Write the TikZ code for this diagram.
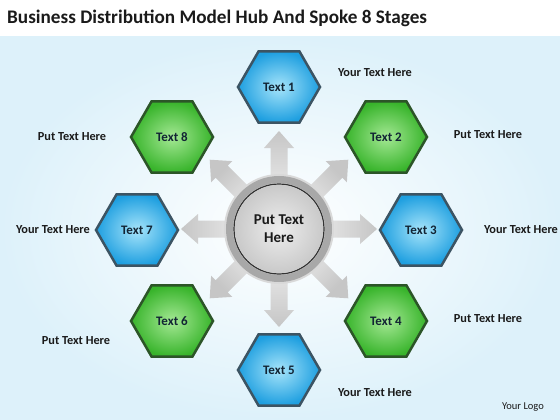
\documentclass[tikz,border=0pt]{standalone}
\usepackage{fontspec}
\setmainfont{Carlito}
\usetikzlibrary{shapes.geometric}
\definecolor{bluein}{HTML}{A6E4FA}
\definecolor{blueout}{HTML}{1E9FE0}
\definecolor{blueedge}{HTML}{3C5463}
\definecolor{greenin}{HTML}{A4E894}
\definecolor{greenout}{HTML}{38B42B}
\definecolor{greenedge}{HTML}{2C5528}
\definecolor{bgedge}{HTML}{DDF1FA}
\definecolor{txt}{HTML}{1A1A1A}
\definecolor{hextxt}{HTML}{122434}
\tikzset{
  hexbase/.style={regular polygon, regular polygon sides=6, minimum size=82, inner sep=0pt,
    line width=2.5pt, font=\fontsize{13}{15}\selectfont\bfseries, text=hextxt},
  bluehex/.style={hexbase, draw=blueedge, shading=radial, inner color=bluein, outer color=blueout},
  greenhex/.style={hexbase, draw=greenedge, shading=radial, inner color=greenin, outer color=greenout},
  lbl/.style={font=\fontsize{12.3}{14}\selectfont\bfseries, text=txt, inner sep=0pt},
}
\begin{document}
\begin{tikzpicture}[x=1pt,y=-1pt]
\useasboundingbox (0,0) rectangle (560,420);
\fill[white] (0,0) rectangle (560,420);
\shade[inner color=white, outer color=bgedge] (0,37) rectangle (560,420);
\node[anchor=west, inner sep=0pt, font=\fontsize{19.2}{21}\selectfont\bfseries, text=txt] (title) at (7,18) {Business Distribution Model Hub And Spoke 8 Stages};
\coordinate (c) at (279,229);
% spokes
\foreach \a in {0,45,...,315} {
  \begin{scope}[shift={(c)}, rotate=\a]
    \shade[top color=gray!45, bottom color=white, shading angle=\a-90]
      (0,-8.5) -- (81,-8.5) -- (81,-15) -- (98,0) -- (81,15) -- (81,8.5) -- (0,8.5) -- cycle;
  \end{scope}
}
% hub
\fill[gray!30] (c) circle (55);
\draw[line width=7pt, gray!68] (c) circle (49.5);
\draw[line width=1.2pt, gray!40!black] (c) circle (45);
\node[circle, minimum size=88, inner sep=0pt, shading=radial, inner color=gray!14, outer color=gray!42,
  font=\fontsize{15}{18}\selectfont\bfseries, text=txt, align=center] (hub) at (c) {Put Text\\Here};
% hexagons
\node[bluehex]  (t1) at (279,87)  {Text 1};
\node[greenhex] (t2) at (386,137) {Text 2};
\node[bluehex]  (t3) at (421,230) {Text 3};
\node[greenhex] (t4) at (386,321) {Text 4};
\node[bluehex]  (t5) at (279,370) {Text 5};
\node[greenhex] (t6) at (172,321) {Text 6};
\node[bluehex]  (t7) at (137,230) {Text 7};
\node[greenhex] (t8) at (172,137) {Text 8};
% labels
\node[lbl] (l1) at (375,73)  {Your Text Here};
\node[lbl] (l2) at (488,135) {Put Text Here};
\node[lbl] (l3) at (521,230) {Your Text Here};
\node[lbl] (l4) at (488,319) {Put Text Here};
\node[lbl] (l5) at (375,393) {Your Text Here};
\node[lbl] (l6) at (76,341)  {Put Text Here};
\node[lbl] (l7) at (53,230)  {Your Text Here};
\node[lbl] (l8) at (72,137)  {Put Text Here};
\node[font=\fontsize{10.5}{12}\selectfont, text=txt, inner sep=0pt] (logo) at (523,407) {Your Logo};
\end{tikzpicture}
\end{document}
